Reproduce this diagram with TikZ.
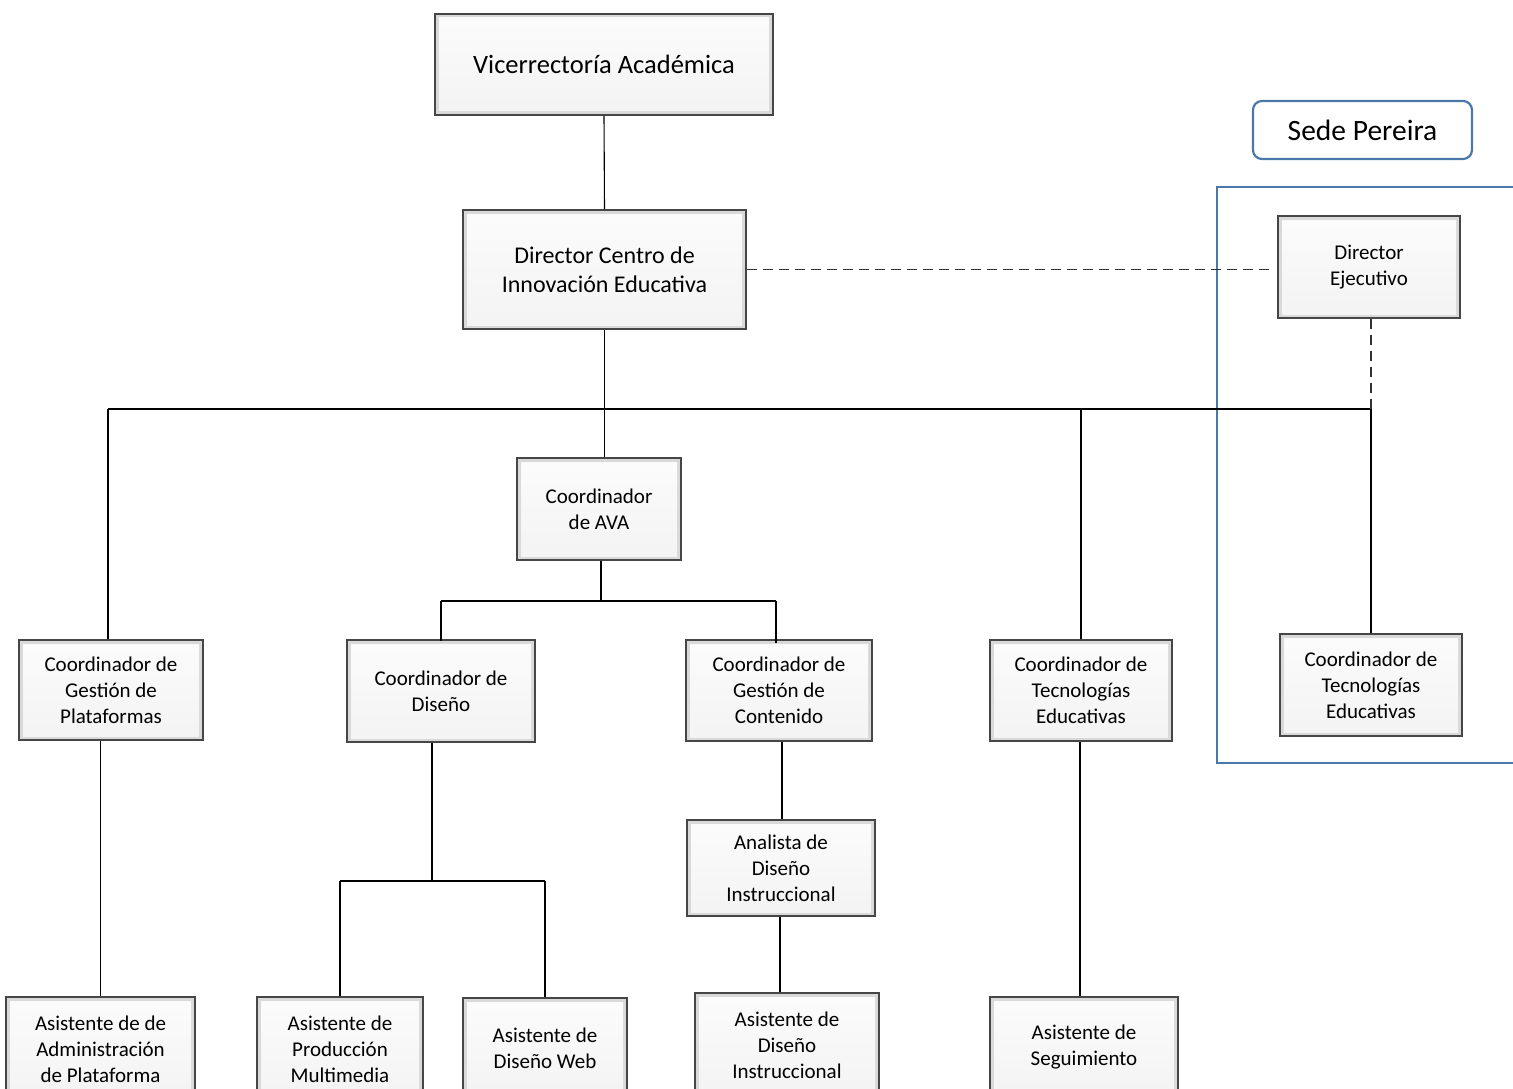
\documentclass[tikz,border=0pt]{standalone}
\usepackage{fontspec}
\setmainfont{Carlito}
\usetikzlibrary{calc}
\definecolor{frameblue}{HTML}{4A78A8}
\tikzset{
  orgbox/.style={draw=gray!55!black, line width=1.6pt, align=center, inner sep=0pt,
    font=\fontsize{21}{26}\selectfont,
    path picture={
      \fill[gray!30] (path picture bounding box.south west) rectangle (path picture bounding box.north east);
      \fill[top color=gray!3, bottom color=gray!9]
        ([shift={(4pt,-4pt)}]path picture bounding box.north west) rectangle
        ([shift={(-4pt,4pt)}]path picture bounding box.south east);
    }},
  bigbox/.style={orgbox, font=\fontsize{24}{29}\selectfont},
  conn/.style={line width=1.1pt, black},
  dconn/.style={line width=1.2pt, black!80, dash pattern=on 10pt off 6pt},
}
\begin{document}
\begin{tikzpicture}[x=1pt,y=-1pt]
\useasboundingbox (0,0) rectangle (1513,1089);
\clip (0,0) rectangle (1513,1089);
% blue frame (open to the right)
\draw[frameblue, line width=2.2pt] (1513,187) -- (1217,187) -- (1217,763) -- (1513,763);
% nodes
\node[bigbox, font=\fontsize{26.5}{32}\selectfont, minimum width=338pt, minimum height=101pt] (via) at (604,64.5) {Vicerrectoría Académica};
\node[bigbox, minimum width=283pt, minimum height=119pt] (dci) at (604.5,269.5) {Director Centro de\\Innovación Educativa};
\node[draw=frameblue, line width=2.2pt, rounded corners=9pt, fill=white, minimum width=219pt, minimum height=58pt,
      font=\fontsize{29.5}{35}\selectfont] (sede) at (1362.5,130) {Sede Pereira};
\node[orgbox, minimum width=182pt, minimum height=102pt] (dej) at (1369,267) {\raisebox{-2pt}{\begin{tabular}{@{}c@{}}Director\\Ejecutivo\end{tabular}}};
\node[orgbox, minimum width=164pt, minimum height=102pt] (ava) at (599,509) {Coordinador\\de AVA};
\node[orgbox, minimum width=184pt, minimum height=100pt] (cgp) at (111,690) {Coordinador de\\Gestión de\\Plataformas};
\node[orgbox, minimum width=188pt, minimum height=102pt] (cdi) at (441,691) {Coordinador de\\Diseño};
\node[orgbox, minimum width=186pt, minimum height=101pt] (cgc) at (779,690.5) {Coordinador de\\Gestión de\\Contenido};
\node[orgbox, minimum width=182pt, minimum height=101pt] (cte) at (1081,690.5) {Coordinador de\\Tecnologías\\Educativas};
\node[orgbox, minimum width=182pt, minimum height=102pt] (ctp) at (1371,685) {Coordinador de\\Tecnologías\\Educativas};
\node[orgbox, minimum width=188pt, minimum height=96pt] (adi) at (781,868) {Analista de\\Diseño\\Instruccional};
\node[orgbox, minimum width=189pt, minimum height=104pt] (aap) at (100.5,1049) {Asistente de de\\Administración\\de Plataforma};
\node[orgbox, minimum width=166pt, minimum height=104pt] (apm) at (340,1049) {Asistente de\\Producción\\Multimedia};
\node[orgbox, minimum width=164pt, minimum height=100pt] (adw) at (545,1048) {Asistente de\\Diseño Web};
\node[orgbox, minimum width=184pt, minimum height=104pt] (asi) at (787,1045) {Asistente de\\Diseño\\Instruccional};
\node[orgbox, minimum width=188pt, minimum height=100pt] (ase) at (1084,1047) {Asistente de\\Seguimiento};
% coordinates
\coordinate (busL) at (108,409);
\coordinate (busR) at (1371,409);
\coordinate (avab) at (601,601);
\coordinate (dib) at (432,881);
% connectors
\draw[conn] (via.south) -- (dci.north);
\draw[conn] (dci.south) -- (dci.south |- ava.north);
\draw[conn] (busL) -- (busR);
\draw[conn] (busL) -- (busL |- cgp.north);
\draw[conn] (cte.north |- busL) -- (cte.north);
\draw[conn] (busR) -- (ctp.north);
\draw[dconn] (dci.east) -- ([xshift=-8pt]dci.east -| dej.west);
\draw[dconn] (busR |- dej.south) -- (busR);
\draw[conn] (ava.south -| avab) -- (avab);
\draw[conn] (cdi.north |- avab) -- ([xshift=-3pt]cgc.north |- avab);
\draw[conn] (cdi.north |- avab) -- ([yshift=-2pt]cdi.north);
\draw[conn] ([xshift=-3pt]cgc.north |- avab) -- ([xshift=-3pt,yshift=-4pt]cgc.north);
\draw[conn] (aap.north |- cgp.south) -- (aap.north);
\draw[conn] (dib |- cdi.south) -- (dib);
\draw[conn] (apm.north |- dib) -- (adw.north |- dib);
\draw[conn] (apm.north |- dib) -- (apm.north);
\draw[conn] (adw.north |- dib) -- (adw.north);
\draw[conn] ([xshift=1pt]adi.north |- cgc.south) -- ([xshift=1pt]adi.north);
\draw[conn] ([xshift=-1pt]adi.south) -- ([xshift=-1pt]adi.south |- asi.north);
\draw[conn] ([xshift=-1pt]cte.south) -- ([xshift=-1pt]cte.south |- ase.north);
\end{tikzpicture}
\end{document}
